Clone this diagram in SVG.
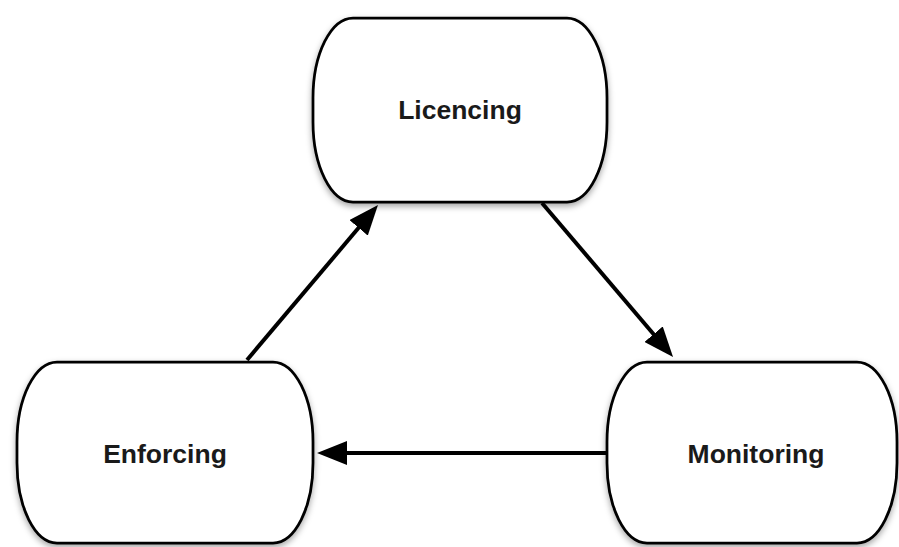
<svg xmlns="http://www.w3.org/2000/svg" width="899" height="547" viewBox="0 0 899 547">
  <defs>
    <filter id="shadow" x="-10%" y="-10%" width="120%" height="125%">
      <feDropShadow dx="0" dy="3" stdDeviation="3" flood-color="#000" flood-opacity="0.35"/>
    </filter>
    <marker id="arrowhead" viewBox="0 0 30 24" markerWidth="30" markerHeight="24" refX="2" refY="12" orient="auto" markerUnits="userSpaceOnUse">
      <path d="M0,0 L30,12 L0,24 Z" fill="#000"/>
    </marker>
  </defs>
  <style>
    .node { fill: #fff; stroke: #000; stroke-width: 2.75; filter: url(#shadow); }
    .label { font-family: "Liberation Sans", Arial, Helvetica, sans-serif; font-weight: bold; font-size: 26.5px; fill: #1a1a1a; text-anchor: middle; }
    .edge { fill: none; stroke: #000; stroke-width: 4; marker-end: url(#arrowhead); }
  </style>
  <rect width="899" height="547" fill="#fff"/>

  <!-- arrows: line ends at the head's base, the marker supplies the tip -->
  <g id="connectors">
    <line class="edge" x1="247" y1="360" x2="359.9" y2="226.3"/>
    <line class="edge" x1="542" y1="203" x2="654.9" y2="335.7"/>
    <line class="edge" x1="607" y1="453" x2="345" y2="453"/>
  </g>

  <g id="licencing">
    <rect class="node" x="313" y="18" width="294" height="184" rx="40" ry="80"/>
    <text class="label" x="460" y="119">Licencing</text>
  </g>

  <g id="enforcing">
    <rect class="node" x="17" y="362" width="296" height="181" rx="40" ry="80"/>
    <text class="label" x="165" y="463">Enforcing</text>
  </g>

  <g id="monitoring">
    <rect class="node" x="607" y="362" width="290" height="181" rx="40" ry="80"/>
    <text class="label" x="756" y="463">Monitoring</text>
  </g>
</svg>
